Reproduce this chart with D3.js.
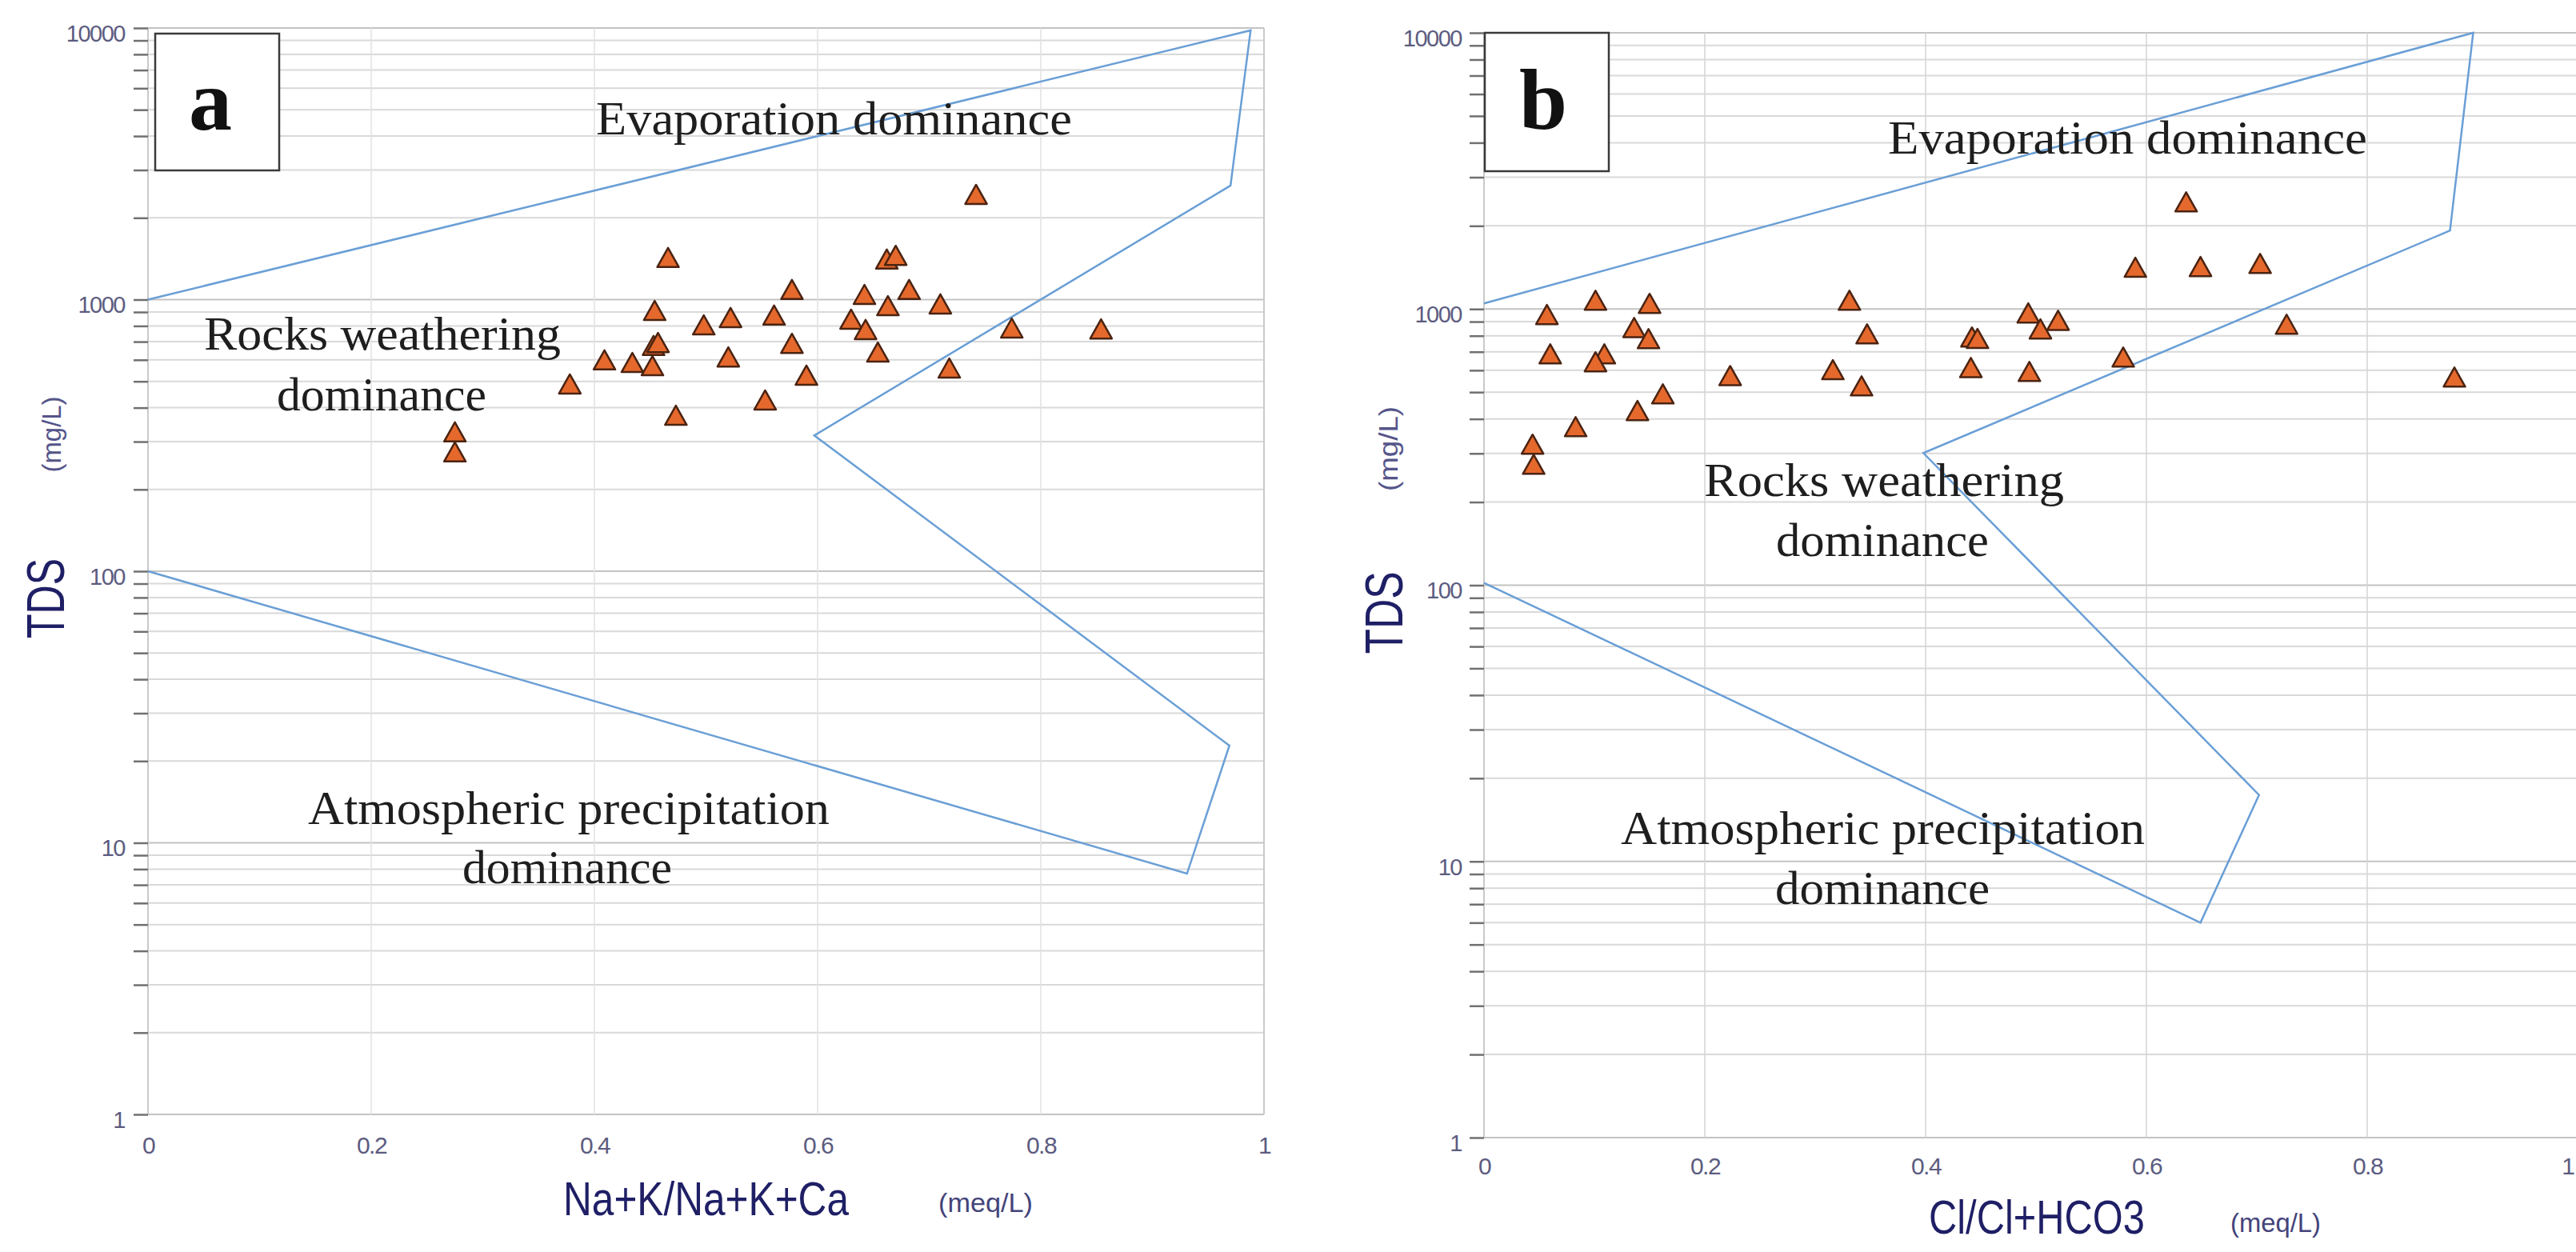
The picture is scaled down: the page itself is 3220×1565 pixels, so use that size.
<!DOCTYPE html>
<html><head><meta charset="utf-8">
<script src="https://cdn.jsdelivr.net/npm/d3@7"></script>
<style>html,body{margin:0;padding:0;background:#fff;} svg{display:block}</style>
</head><body>
<svg id="chart" width="3220" height="1565"></svg>
<script>
// ---------- data ----------
const yTickValues = [1, 10, 100, 1000, 10000];
const yTickLabels = ["1", "10", "100", "1000", "10000"];
const xTickValues = [0, 0.2, 0.4, 0.6, 0.8, 1];
const xTickLabels = ["0", "0.2", "0.4", "0.6", "0.8", "1"];

// panel a : Na+K/(Na+K+Ca) vs TDS
const aRatio = [0.742, 0.466, 0.662, 0.670, 0.577, 0.642, 0.682, 0.663, 0.710, 0.454,
                0.498, 0.522, 0.561, 0.630, 0.643, 0.774, 0.854, 0.453, 0.457, 0.577,
                0.520, 0.654, 0.590, 0.718, 0.553, 0.473, 0.409, 0.434, 0.452, 0.378,
                0.275, 0.275];
const aTDS   = [2440, 1430, 1410, 1455, 1090, 1045, 1090, 950, 964, 912,
                807, 859, 877, 847, 776, 786, 780, 678, 695, 690,
                615, 641, 527, 560, 427, 375, 600, 587, 571, 489,
                326, 275];

// panel b : Cl/(Cl+HCO3) vs TDS
const bRatio = [0.057, 0.101, 0.150, 0.331, 0.136, 0.149, 0.347, 0.060, 0.109, 0.101,
                0.223, 0.316, 0.342, 0.162, 0.139, 0.083, 0.044, 0.045, 0.636, 0.590,
                0.649, 0.703, 0.493, 0.520, 0.504, 0.442, 0.447, 0.727, 0.441, 0.494,
                0.579, 0.879];
const bTDS   = [955, 1076, 1048, 1076, 857, 781, 813, 688, 688, 644,
                574, 603, 527, 493, 429, 375, 324, 274, 2443, 1416,
                1425, 1462, 968, 910, 847, 792, 782, 881, 614, 594,
                670, 567];

// Gibbs boundary outlines
const aBoundaryRatio = [0, 0.988, 0.970, 0.597, 0.969, 0.931, 0];
const aBoundaryTDS   = [1000, 9800, 2630, 316, 22.8, 7.7, 100];
const bBoundaryRatio = [0, 0.896, 0.875, 0.398, 0.702, 0.649, 0];
const bBoundaryTDS   = [1048, 10000, 1923, 301, 17.4, 6.0, 102];

// ---------- layout ----------
const svg = d3.select("#chart");
svg.append("rect").attr("width", 3220).attr("height", 1565).attr("fill", "#fff");

const minorTicks = [];
yTickValues.forEach((d, i) => {
  if (i < yTickValues.length - 1) { for (let m = 1; m <= 9; m++) minorTicks.push(m * d); }
  else minorTicks.push(d);
});

const SERIF = "'Liberation Serif', 'Times New Roman', serif";
const SANS = "'Liberation Sans', Arial, sans-serif";
const VIEW_W = 3220;

const panels = [
  {
    x0: 185, x1: 1580, yTop: 35, yBot: 1393, gridRight: 1580, yPad: 11, xPad: 28,
    vgrid: "#e2e2e2", ratio: aRatio, tds: aTDS, bx: aBoundaryRatio, by: aBoundaryTDS,
    box: {x: 194, y: 42, w: 155, h: 171, letter: "a", lx: 263, ly: 162},
    notes: [
      {t: "Evaporation dominance", x: 745, y: 168, w: 595},
      {t: "Rocks weathering", x: 255, y: 437, w: 446},
      {t: "dominance", x: 346, y: 513, w: 262},
      {t: "Atmospheric precipitation", x: 385, y: 1030, w: 652},
      {t: "dominance", x: 578, y: 1104, w: 262}
    ],
    tdsTitle: {x: 80, y: 748, w: 100},
    unitTitle: {x: 76, y: 543, w: 95},
    xTitle: {t: "Na+K/Na+K+Ca", x: 704, y: 1519, w: 357},
    xUnit: {x: 1173, y: 1515, w: 118}
  },
  {
    x0: 1855, x1: 3235, yTop: 41, yBot: 1422, gridRight: 3235, yPad: 10, xPad: 25,
    vgrid: "#d4d4d4", ratio: bRatio, tds: bTDS, bx: bBoundaryRatio, by: bBoundaryTDS,
    box: {x: 1856, y: 41, w: 155, h: 173, letter: "b", lx: 1929, ly: 161},
    notes: [
      {t: "Evaporation dominance", x: 2360, y: 192, w: 599},
      {t: "Rocks weathering", x: 2130, y: 620, w: 450},
      {t: "dominance", x: 2220, y: 695, w: 266},
      {t: "Atmospheric precipitation", x: 2026, y: 1055, w: 655},
      {t: "dominance", x: 2219, y: 1130, w: 268}
    ],
    tdsTitle: {x: 1753, y: 766, w: 103},
    unitTitle: {x: 1747, y: 561, w: 106},
    xTitle: {t: "Cl/Cl+HCO3", x: 2411, y: 1542, w: 270},
    xUnit: {x: 2788, y: 1540, w: 113}
  }
];

panels.forEach(p => {
  const x = d3.scaleLinear().domain([0, 1]).range([p.x0, p.x1]);
  const y = d3.scaleLog().domain([1, 10000]).range([p.yBot, p.yTop]);
  const g = svg.append("g");

  // horizontal grid
  g.append("g").selectAll("line").data(minorTicks).join("line")
    .attr("x1", p.x0).attr("x2", p.gridRight)
    .attr("y1", d => y(d)).attr("y2", d => y(d))
    .attr("stroke", d => yTickValues.includes(d) ? "#c3c3c3" : "#d9d9d9")
    .attr("stroke-width", 2);

  // vertical grid
  g.append("g").selectAll("line").data(xTickValues).join("line")
    .attr("x1", d => x(d)).attr("x2", d => x(d))
    .attr("y1", p.yTop).attr("y2", p.yBot)
    .attr("stroke", d => (d === 0 || d === 1) ? "#cacaca" : p.vgrid)
    .attr("stroke-width", d => (d === 0 || d === 1) ? 2 : 1.5);

  // y axis with minor ticks
  const ya = g.append("g").attr("transform", `translate(${p.x0},0)`)
    .call(d3.axisLeft(y).tickValues(minorTicks).tickSize(18).tickPadding(p.yPad)
      .tickFormat(d => { const i = yTickValues.indexOf(d); return i >= 0 ? yTickLabels[i] : ""; }));
  ya.select(".domain").remove();
  ya.selectAll(".tick line").attr("stroke", "#707070").attr("stroke-width", 2.5);
  ya.selectAll(".tick text").attr("y", 7).attr("fill", "#5c5c80")
    .style("font-family", SANS).style("font-size", "29px").style("letter-spacing", "-1.5px");

  // x axis labels
  const xa = g.append("g").attr("transform", `translate(0,${p.yBot})`)
    .call(d3.axisBottom(x).tickValues(xTickValues).tickSize(0).tickPadding(p.xPad)
      .tickFormat((d, i) => xTickLabels[i]));
  xa.select(".domain").remove();
  xa.selectAll(".tick text").attr("fill", "#5c5c80")
    .style("font-family", SANS).style("font-size", "30px").style("letter-spacing", "-1.5px")
    .each(function(d) {
      // keep a label that would fall past the page edge just inside it
      if (x(d) + 10 > VIEW_W) d3.select(this).attr("text-anchor", "end").attr("x", VIEW_W - 3 - x(d));
    });

  // boundary outline
  const line = d3.line().x(d => x(d[0])).y(d => y(d[1]));
  g.append("path").datum(d3.zip(p.bx, p.by))
    .attr("d", line).attr("fill", "none")
    .attr("stroke", "#6a9fd6").attr("stroke-width", 2.5).attr("stroke-linejoin", "miter");

  // samples
  g.append("g").selectAll("path").data(d3.zip(p.ratio, p.tds)).join("path")
    .attr("d", "M0,-12L13.5,12L-13.5,12Z")
    .attr("transform", d => `translate(${x(d[0])},${y(d[1])})`)
    .attr("fill", "#e5692c").attr("stroke", "#4b2311").attr("stroke-width", 2.5)
    .attr("stroke-linejoin", "round");

  // panel letter box
  g.append("rect").attr("x", p.box.x).attr("y", p.box.y).attr("width", p.box.w).attr("height", p.box.h)
    .attr("fill", "#fff").attr("stroke", "#3a3a3a").attr("stroke-width", 2.5);
  g.append("text").attr("x", p.box.lx).attr("y", p.box.ly).attr("text-anchor", "middle")
    .style("font-family", SERIF).style("font-weight", "bold").style("font-size", "108px")
    .attr("fill", "#111").text(p.box.letter);

  // region annotations
  g.append("g").selectAll("text").data(p.notes).join("text")
    .attr("x", d => d.x).attr("y", d => d.y)
    .attr("textLength", d => d.w).attr("lengthAdjust", "spacingAndGlyphs")
    .style("font-family", SERIF).style("font-size", "60px").attr("fill", "#1e1e1e")
    .text(d => d.t);

  // axis titles
  g.append("text").attr("transform", `translate(${p.tdsTitle.x},${p.tdsTitle.y}) rotate(-90)`)
    .attr("text-anchor", "middle").attr("textLength", p.tdsTitle.w).attr("lengthAdjust", "spacingAndGlyphs")
    .style("font-family", SANS).style("font-size", "66px").attr("fill", "#1f1f66").text("TDS");
  g.append("text").attr("transform", `translate(${p.unitTitle.x},${p.unitTitle.y}) rotate(-90)`)
    .attr("text-anchor", "middle").attr("textLength", p.unitTitle.w).attr("lengthAdjust", "spacingAndGlyphs")
    .style("font-family", SANS).style("font-size", "34px").attr("fill", "#55558a").text("(mg/L)");
  g.append("text").attr("x", p.xTitle.x).attr("y", p.xTitle.y)
    .attr("textLength", p.xTitle.w).attr("lengthAdjust", "spacingAndGlyphs")
    .style("font-family", SANS).style("font-size", "60px").attr("fill", "#1f1f66").text(p.xTitle.t);
  g.append("text").attr("x", p.xUnit.x).attr("y", p.xUnit.y)
    .attr("textLength", p.xUnit.w).attr("lengthAdjust", "spacingAndGlyphs")
    .style("font-family", SANS).style("font-size", "34px").attr("fill", "#44447a").text("(meq/L)");
});
</script>
</body></html>
